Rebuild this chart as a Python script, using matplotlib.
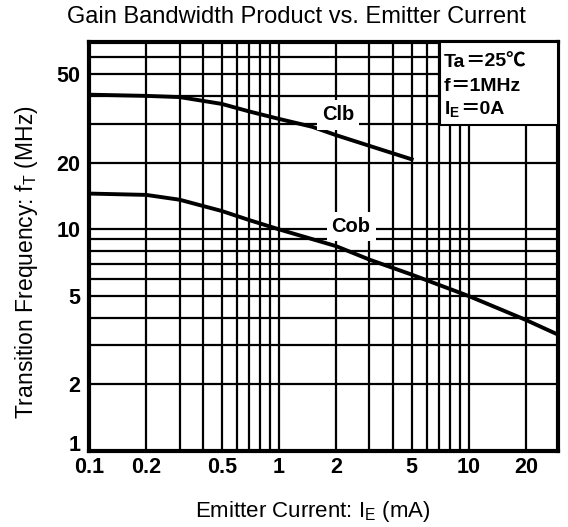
import matplotlib
matplotlib.use("Agg")
import matplotlib.pyplot as plt
from matplotlib.patches import Rectangle
from matplotlib.transforms import offset_copy
import numpy as np

# data
clb_current = [0.1, 0.2, 0.3, 0.5, 0.7, 1.0, 1.5, 2.0, 3.0, 5.0]
clb_freq = [40.5, 40.0, 39.5, 36.8, 34.0, 31.5, 29.0, 26.6, 23.8, 20.7]
cob_current = [0.1, 0.2, 0.3, 0.5, 0.7, 1.0, 2.0, 3.0, 5.0, 10.0, 20.0, 29.5]
cob_freq = [14.5, 14.3, 13.6, 12.1, 11.0, 10.0, 8.4, 7.3, 6.25, 5.0, 3.9, 3.35]

x_major = [0.1, 0.2, 0.5, 1, 2, 5, 10, 20]
x_major_labels = ["0.1", "0.2", "0.5", "1", "2", "5", "10", "20"]
x_minor = [0.3, 0.4, 0.6, 0.7, 0.8, 0.9, 3, 4, 6, 7, 8, 9]
y_major = [1, 2, 5, 10, 20, 50]
y_major_labels = ["1", "2", "5", "10", "20", "50"]
y_minor = [3, 4, 6, 7, 8, 9, 30, 40, 60]

cond_names = ["Ta", "f", "I$_\\mathregular{E}$"]
cond_values = ["\uff1d25\u2103", "\uff1d1MHz", "\uff1d0A"]

plt.rcParams['font.family'] = ['Liberation Sans', 'Noto Sans CJK JP', 'DejaVu Sans']

fig = plt.figure(figsize=(5.68, 5.27), dpi=100)
ax = fig.add_axes([0.1567, 0.1442, 0.8257, 0.7761])
ax.set_xscale('log')
ax.set_yscale('log')
ax.set_xlim(0.1, 29.5)
ax.set_ylim(1, 70)

ax.set_xticks(x_major)
ax.set_xticklabels(x_major_labels)
ax.set_xticks(x_minor, minor=True)
ax.set_xticklabels([], minor=True)
ax.set_yticks(y_major)
ax.set_yticklabels(y_major_labels)
ax.set_yticks(y_minor, minor=True)
ax.set_yticklabels([], minor=True)
ax.tick_params(which='both', length=0)
ax.tick_params(axis='x', pad=4, labelsize=15.5)
ax.tick_params(axis='y', pad=6, labelsize=15.5)
for lab in ax.get_xticklabels() + ax.get_yticklabels():
    lab.set_fontweight('bold')
# the "1" on the y axis sits just above the bottom edge
ax.get_yticklabels()[0].set_va('baseline')

ax.grid(True, which='both', color='black', linewidth=1.6)
ax.set_axisbelow(True)
for sp in ax.spines.values():
    sp.set_linewidth(3)

ax.plot(clb_current, clb_freq, color='black', linewidth=2.8, zorder=3)
ax.plot(cob_current, cob_freq, color='black', linewidth=2.8, zorder=3)

ax.text(2.05, 32.8, "Clb", fontsize=14.5, fontweight='bold', ha='center', va='center', zorder=4,
        bbox=dict(boxstyle='square,pad=0.25', facecolor='white', edgecolor='none'))
ax.text(2.4, 10.3, "Cob", fontsize=14.5, fontweight='bold', ha='center', va='center', zorder=4,
        bbox=dict(boxstyle='square,pad=0.25', facecolor='white', edgecolor='none'))

# conditions box in the top right corner
box = Rectangle((0.748, 0.797), 0.252, 0.203, transform=ax.transAxes,
                facecolor='white', edgecolor='black', linewidth=1.5, zorder=4)
ax.add_patch(box)
fig.canvas.draw()
renderer = fig.canvas.get_renderer()
for i, (name, val) in enumerate(zip(cond_names, cond_values)):
    y = 0.939 - i * 0.058
    t = ax.text(0.757, y, name, transform=ax.transAxes, fontsize=14,
                fontweight='bold', ha='left', va='baseline', zorder=5)
    w = t.get_window_extent(renderer).width
    tr = offset_copy(ax.transAxes, fig=fig, x=w, y=0, units='dots')
    ax.text(0.757, y, val, transform=tr, fontsize=14,
            fontweight='bold', ha='left', va='baseline', zorder=5)

fig.text(296 / 568, 1 - 17 / 527, "Gain Bandwidth Product vs. Emitter Current",
         fontsize=17, ha='center', va='center')
fig.text(313 / 568, 1 - 511 / 527, "Emitter Current: I$_\\mathregular{E}$ (mA)",
         fontsize=16, ha='center', va='center')
fig.text(27 / 568, 1 - 262 / 527, "Transition Frequency: f$_\\mathregular{T}$ (MHz)",
         fontsize=16.5, ha='center', va='center', rotation=90)

fig.savefig("out.png", dpi=100, facecolor='white')
